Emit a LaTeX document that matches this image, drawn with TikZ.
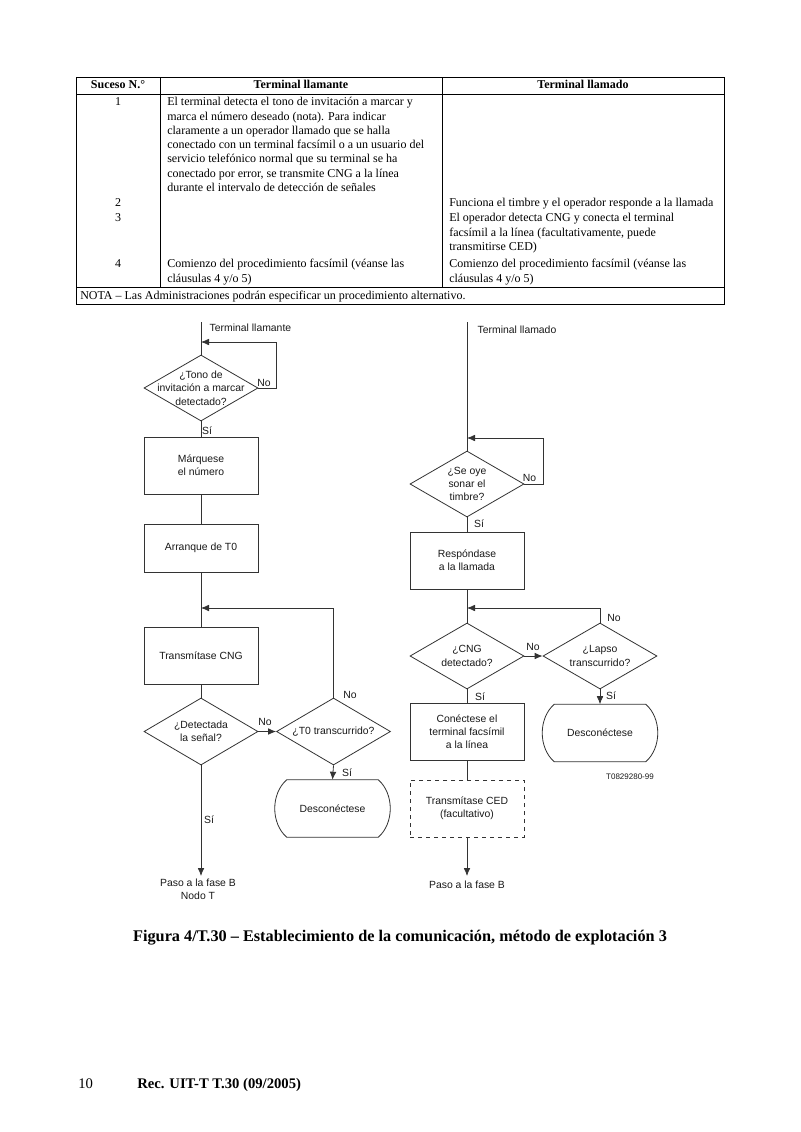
\documentclass[tikz,border=0pt]{standalone}
\usepackage{fontspec}
\setmainfont{Liberation Serif}
\newfontfamily\arialf{Liberation Sans}
\usetikzlibrary{shapes.geometric,arrows.meta,calc}
\begin{document}
\begin{tikzpicture}[x=0.75pt,y=-0.75pt,
 tt/.style={font=\fontsize{9}{10.7}\selectfont, inner sep=0pt},
 tth/.style={inner sep=0pt, font=\bfseries\fontsize{9}{10.7}\selectfont},
 tnum/.style={tt, anchor=base},
 tpar/.style={tt, align=left, anchor=north west},
 tline/.style={draw=black, line width=0.6pt},
 fc/.style={font=\arialf\fontsize{7.8}{9.6}\selectfont, text=black!90},
 flow/.style={draw=black!80, line width=0.6pt},
 arr/.style={flow, -{Latex[length=6pt,width=5pt]}},
 pbox/.style={flow, fc, rectangle, minimum width=85.5pt, minimum height=42.75pt, align=center, inner sep=0pt},
 dia/.style={flow, diamond, minimum width=85.5pt, minimum height=49.5pt, inner sep=0pt},
 dlbl/.style={fc, font=\arialf\fontsize{7.8}{10}\selectfont, align=center},
 yn/.style={fc, inner sep=0pt},
 term/.style={fc, minimum width=86.25pt, minimum height=42.75pt, inner sep=0pt},
]
\useasboundingbox (0,0) rectangle (800,1132);
\fill[white] (0,0) rectangle (800,1132);

% ---------------- table ----------------
\draw[tline] (76,77) rectangle (724,304);
\draw[tline] (76,94) -- (724,94);
\draw[tline] (76,287) -- (724,287);
\draw[tline] (160,77) -- (160,287);
\draw[tline] (442,77) -- (442,287);

\node[tth, anchor=base] (h1) at (118,88.5) {Suceso N.°};
\node[tth, anchor=base] (h2) at (301,88.5) {Terminal llamante};
\node[tth, anchor=base] (h3) at (583,88.5) {Terminal llamado};

\node[tnum] (n1) at (118,105.5) {1};
\node[tnum] (n2) at (118,206.5) {2};
\node[tnum] (n3) at (118,221.5) {3};
\node[tnum] (n4) at (118,267.5) {4};

\node[tpar] (r1a) at (167,95.5) {\strut El terminal detecta el tono de invitación a marcar y\\
marca el número deseado (nota). Para indicar\\
claramente a un operador llamado que se halla\\
conectado con un terminal facsímil o a un usuario del\\
servicio telefónico normal que su terminal se ha\\
conectado por error, se transmite CNG a la línea\\
durante el intervalo de detección de señales};
\node[tpar] (r2b) at (449,196.5) {\strut Funciona el timbre y el operador responde a la llamada};
\node[tpar] (r3b) at (449,211.5) {\strut El operador detecta CNG y conecta el terminal\\
facsímil a la línea (facultativamente, puede\\
transmitirse CED)};
\node[tpar] (r4a) at (167,257.5) {\strut Comienzo del procedimiento facsímil (véanse las\\
cláusulas 4 y/o 5)};
\node[tpar] (r4b) at (449,257.5) {\strut Comienzo del procedimiento facsímil (véanse las\\
cláusulas 4 y/o 5)};
\node[tt, anchor=base west] (nota) at (80,299.5) {NOTA -- Las Administraciones podrán especificar un procedimiento alternativo.};

% ---------------- left flowchart ----------------
\coordinate (ls) at (201,322);
\coordinate (m1) at (201,342);
\coordinate (m2) at (201,608);
\coordinate (le) at (201,876);
\node[fc, anchor=west] (lt1) at (205,328) {Terminal llamante};

\node[dia, label={[dlbl]center:{¿Tono de\\invitación a marcar\\detectado?}}] (d1) at (201,388) {};
\node[pbox] (b1) at (201,465.5) {Márquese\\el número};
\node[pbox, minimum height=36pt] (b2) at (201,548) {Arranque de T0};
\node[pbox] (b3) at (201,655.5) {Transmítase CNG};
\node[dia, minimum height=50.25pt, label={[dlbl]center:{¿Detectada\\la señal?}}] (d2) at (201,731.5) {};
\node[dia, minimum height=50.25pt, label={[dlbl]center:{¿T0 transcurrido?}}] (d6) at (333.5,731.5) {};
\node[term] (q1) at (332.5,808.5) {Desconéctese};
\draw[flow] ($(q1.north west)+(12,0)$) -- ($(q1.north east)+(-12,0)$)
  .. controls ($(q1.north east)+(4,14)$) and ($(q1.south east)+(4,-14)$) .. ($(q1.south east)+(-12,0)$)
  -- ($(q1.south west)+(12,0)$)
  .. controls ($(q1.south west)+(-4,-14)$) and ($(q1.north west)+(-4,14)$) .. cycle;

\draw[flow] (ls) -- (d1.north);
\draw[arr] (d1.east) -- (276,388) |- (m1);
\draw[flow] (d1.south) -- (b1.north);
\draw[flow] (b1.south) -- (b2.north);
\draw[flow] (b2.south) -- (b3.north);
\draw[flow] (b3.south) -- (d2.north);
\draw[arr] (d2.east) -- (d6.west);
\draw[arr] (d6.north) |- (m2);
\draw[arr] (d6.south) -- (q1.north);
\draw[arr] (d2.south) -- (le);

\node[yn] (l1) at (264,383) {No};
\node[yn] (l2) at (207,431) {Sí};
\node[yn] (l3) at (265,722) {No};
\node[yn] (l4) at (350,695) {No};
\node[yn] (l5) at (347,773) {Sí};
\node[yn] (l6) at (209,820) {Sí};
\node[fc, align=center, anchor=north, inner sep=0pt] (pb1) at (198,879) {Paso a la fase B\\Nodo T};

% ---------------- right flowchart ----------------
\coordinate (rs) at (467,322);
\coordinate (m3) at (467,438);
\coordinate (m4) at (467,608);
\coordinate (re) at (467,876);
\node[fc, anchor=west] (lt2) at (473,330) {Terminal llamado};

\node[dia, label={[dlbl]center:{¿Se oye\\sonar el\\timbre?}}] (d3) at (467,484) {};
\node[pbox] (b4) at (467,560.5) {Respóndase\\a la llamada};
\node[dia, label={[dlbl]center:{¿CNG\\detectado?}}] (d4) at (467,656) {};
\node[dia, label={[dlbl]center:{¿Lapso\\transcurrido?}}] (d5) at (600,656) {};
\node[pbox] (b5) at (467,732) {Conéctese el\\terminal facsímil\\a la línea};
\node[pbox, dashed] (b6) at (467,808.5) {Transmítase CED\\(facultativo)};
\node[term] (q2) at (600,733) {Desconéctese};
\draw[flow] ($(q2.north west)+(12,0)$) -- ($(q2.north east)+(-12,0)$)
  .. controls ($(q2.north east)+(4,14)$) and ($(q2.south east)+(4,-14)$) .. ($(q2.south east)+(-12,0)$)
  -- ($(q2.south west)+(12,0)$)
  .. controls ($(q2.south west)+(-4,-14)$) and ($(q2.north west)+(-4,14)$) .. cycle;

\draw[flow] (rs) -- (d3.north);
\draw[arr] (d3.east) -- (543,484) |- (m3);
\draw[flow] (d3.south) -- (b4.north);
\draw[flow] (b4.south) -- (d4.north);
\draw[arr] (d5.north) |- (m4);
\draw[arr] (d4.east) -- (d5.west);
\draw[arr] (d5.south) -- (q2.north);
\draw[flow] (d4.south) -- (b5.north);
\draw[flow] (b5.south) -- (b6.north);
\draw[arr] (b6.south) -- (re);

\node[yn] (l7) at (529.5,478) {No};
\node[yn] (l8) at (479,524) {Sí};
\node[yn] (l9) at (614,618) {No};
\node[yn] (l10) at (533,647) {No};
\node[yn] (l11) at (480,697) {Sí};
\node[yn] (l12) at (611,696) {Sí};
\node[fc, anchor=north, inner sep=0pt] (pb2) at (467,881) {Paso a la fase B};
\node[fc, font=\arialf\fontsize{6}{7}\selectfont] (code) at (630,777) {T0829280-99};

% ---------------- caption and footer ----------------
\node[font=\bfseries\fontsize{12.2}{14}\selectfont] (cap) at (400,938) {Figura 4/T.30 -- Establecimiento de la comunicación, método de explotación 3};
\node[anchor=base west, inner sep=0pt, font=\fontsize{11}{13}\selectfont] (pg) at (78,1088) {10};
\node[anchor=base west, inner sep=0pt, font=\bfseries\fontsize{11}{13}\selectfont] (rec) at (137,1088) {Rec. UIT-T T.30 (09/2005)};
\end{tikzpicture}
\end{document}
